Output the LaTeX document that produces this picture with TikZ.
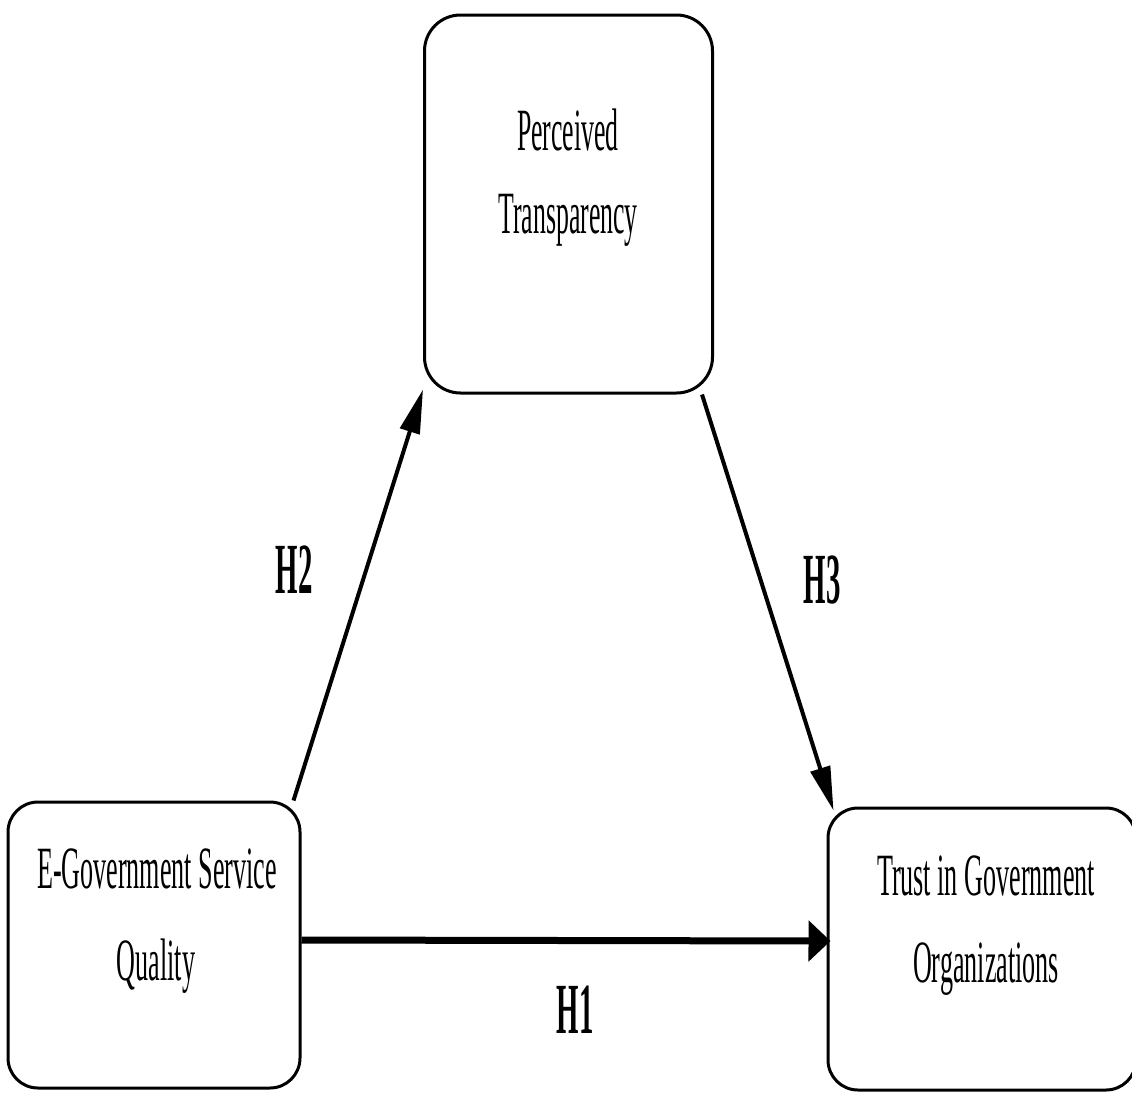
\documentclass[tikz,border=0pt]{standalone}
\usepackage{fontspec}
\setmainfont{Liberation Serif}
\usetikzlibrary{arrows.meta}
\begin{document}
\begin{tikzpicture}[x=1pt,y=-1pt,
  box/.style={draw=black, line width=3pt, rounded corners=36pt, inner sep=0pt, fill=white},
  lbl/.style={font=\fontsize{60}{72}\selectfont, inner sep=0pt, anchor=base, text=black},
  hyp/.style={font=\fontsize{72}{72}\selectfont\bfseries, inner sep=0pt, anchor=base},
  arr/.style={line width=4pt, -{Triangle[length=44pt,width=20pt]}},
  thickarr/.style={line width=7pt, -{Triangle[length=22pt,width=40pt]}}
]
\fill[white] (0,0) rectangle (1132,1093);
\useasboundingbox (0,0) rectangle (1132,1093);
% boxes
\node[box, minimum width=288pt, minimum height=378pt] (pt) at (568.5,204) {};
\node[box, minimum width=292pt, minimum height=286pt, rounded corners=30pt] (lb) at (154,945) {};
\node[box, minimum width=308pt, minimum height=282pt, rounded corners=30pt] (rb) at (982,949) {};
% texts
\node[lbl] (pt1) at (568,150) {\scalebox{0.43}[1]{Perceived}};
\node[lbl] (pt2) at (568,233) {\scalebox{0.43}[1]{Transparency}};
\node[lbl] (lb1) at (157,888) {\scalebox{0.435}[1]{E-Government Service}};
\node[lbl] (lb2) at (156,980) {\scalebox{0.435}[1]{Quality}};
\node[lbl] (rb1) at (986,895) {\scalebox{0.435}[1]{Trust in Government}};
\node[lbl] (rb2) at (986,982) {\scalebox{0.435}[1]{Organizations}};
% arrows
\draw[arr] ([xshift=-8pt]lb.north east) -- ([yshift=5pt]pt.south west);
\draw[arr] ([xshift=-12pt]pt.south east) -- ([xshift=7pt,yshift=-4pt]rb.north west);
\draw[thickarr] ([yshift=5pt]lb.east) -- ([yshift=8pt,xshift=4pt]rb.west);
% hypothesis labels
\node[hyp] (h2) at (294,593) {\scalebox{0.4}[1]{H2}};
\node[hyp] (h3) at (822,603) {\scalebox{0.4}[1]{H3}};
\node[hyp] (h1) at (575,1033) {\scalebox{0.4}[1]{H1}};
\end{tikzpicture}
\end{document}
